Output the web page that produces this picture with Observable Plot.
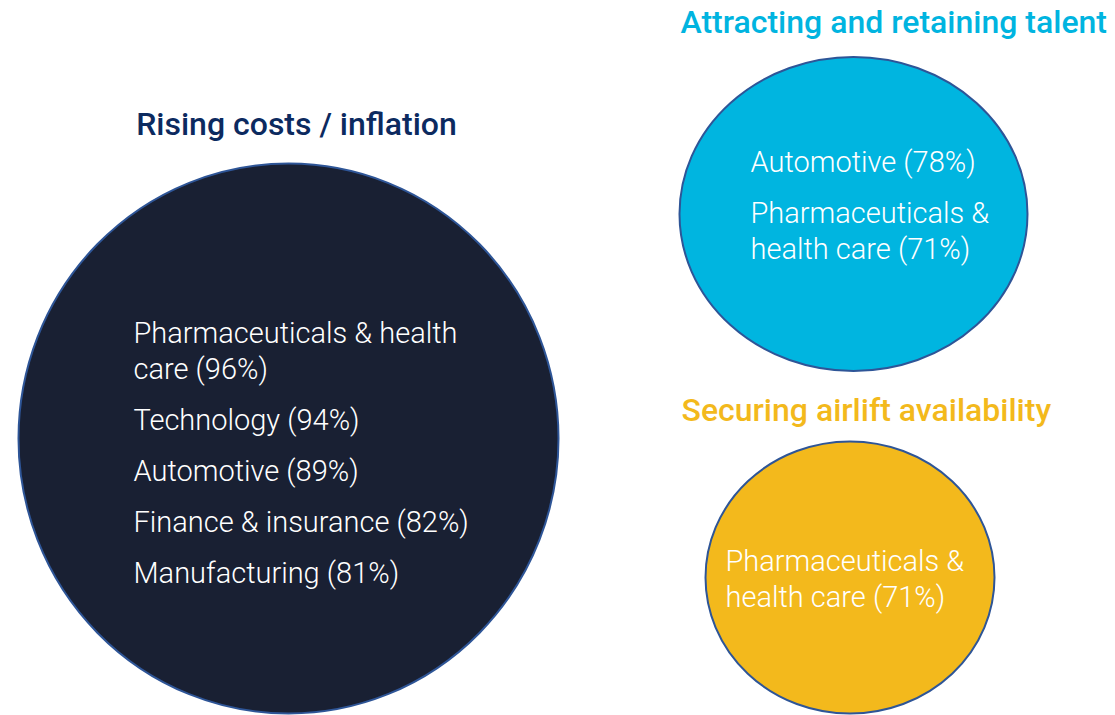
<!DOCTYPE html>
<html><head><meta charset="utf-8">
<script src="https://cdn.jsdelivr.net/npm/d3@7"></script>
<script src="https://cdn.jsdelivr.net/npm/@observablehq/plot@0.6"></script>
<style>html,body{margin:0;padding:0;background:#fff;}</style>
</head><body><div id="chart"></div>
<script>
// ---- data ----
const themes = ["Rising costs / inflation", "Attracting and retaining talent", "Securing airlift availability"];
const costsIndustries = ["Pharmaceuticals & health\ncare", "Technology", "Automotive", "Finance & insurance", "Manufacturing"];
const costsPct = [96, 94, 89, 82, 81];
const talentIndustries = ["Automotive", "Pharmaceuticals &\nhealth care"];
const talentPct = [78, 71];
const airliftIndustries = ["Pharmaceuticals &\nhealth care"];
const airliftPct = [71];

// ---- layout / style (pixels) ----
const layout = [
  {cx: 288, cy: 438, rx: 270, ry: 275, fill: "#192033", titleColor: "#0c2a5f", titleX: 296, titleY: 124, titleAnchor: "middle", textX: 133, textY: 333},
  {cx: 853, cy: 213.5, rx: 174, ry: 157, fill: "#00b5e0", titleColor: "#00b4e0", titleX: 680, titleY: 22, titleAnchor: "start", textX: 750, textY: 162},
  {cx: 849.5, cy: 577, rx: 144.5, ry: 136, fill: "#f3b91c", titleColor: "#f3b91c", titleX: 681, titleY: 410, titleAnchor: "start", textX: 725, textY: 561}
];
const lineH = 36, itemGap = 15;

const groups = [
  {industries: costsIndustries, pct: costsPct},
  {industries: talentIndustries, pct: talentPct},
  {industries: airliftIndustries, pct: airliftPct}
];

const bubbles = themes.map((t, i) => ({theme: t, ...layout[i]}));

const lines = [];
groups.forEach((g, i) => {
  let y = layout[i].textY;
  g.industries.forEach((ind, j) => {
    const label = `${ind} (${g.pct[j]}%)`;
    const parts = label.split("\n");
    parts.forEach((p, k) => {
      lines.push({text: p, x: layout[i].textX, y: y + k * lineH});
    });
    y += parts.length * lineH + itemGap;
  });
});

const W = 1115, H = 715;
const titleOpts = {x: "titleX", y: "titleY", text: "theme", fill: "titleColor", fontSize: 32, fontWeight: 500, fontFamily: "Roboto"};
const chart = Plot.plot({
  width: W, height: H,
  margin: 0,
  x: {domain: [0, W], range: [0, W], axis: null},
  y: {domain: [0, H], range: [0, H], axis: null},
  r: {type: "identity"},
  color: {type: "identity"},
  style: {fontFamily: "Roboto", background: "#fff"},
  marks: [
    Plot.dot(bubbles, {x: "cx", y: "cy", r: "rx", fill: "fill", stroke: "#2e5597", strokeWidth: 2}),
    Plot.text(bubbles.filter(d => d.titleAnchor === "middle"), {...titleOpts, textAnchor: "middle"}),
    Plot.text(bubbles.filter(d => d.titleAnchor === "start"), {...titleOpts, textAnchor: "start"}),
    Plot.text(lines, {x: "x", y: "y", text: "text", fill: "#fff", textAnchor: "start", fontSize: 29, fontWeight: 300, fontFamily: "Roboto"})
  ]
});
document.getElementById("chart").appendChild(chart);

// stretch dots into ellipses
d3.select(chart).selectAll("circle").each(function(d, i) {
  const b = bubbles[i];
  if (!b) return;
  const el = d3.select(this);
  const cx = +el.attr("cx") || b.cx, cy = +el.attr("cy") || b.cy;
  el.attr("transform", `translate(${cx},${cy}) scale(1,${b.ry / b.rx}) translate(${-cx},${-cy})`)
    .attr("vector-effect", "non-scaling-stroke");
});
</script>
</body></html>
